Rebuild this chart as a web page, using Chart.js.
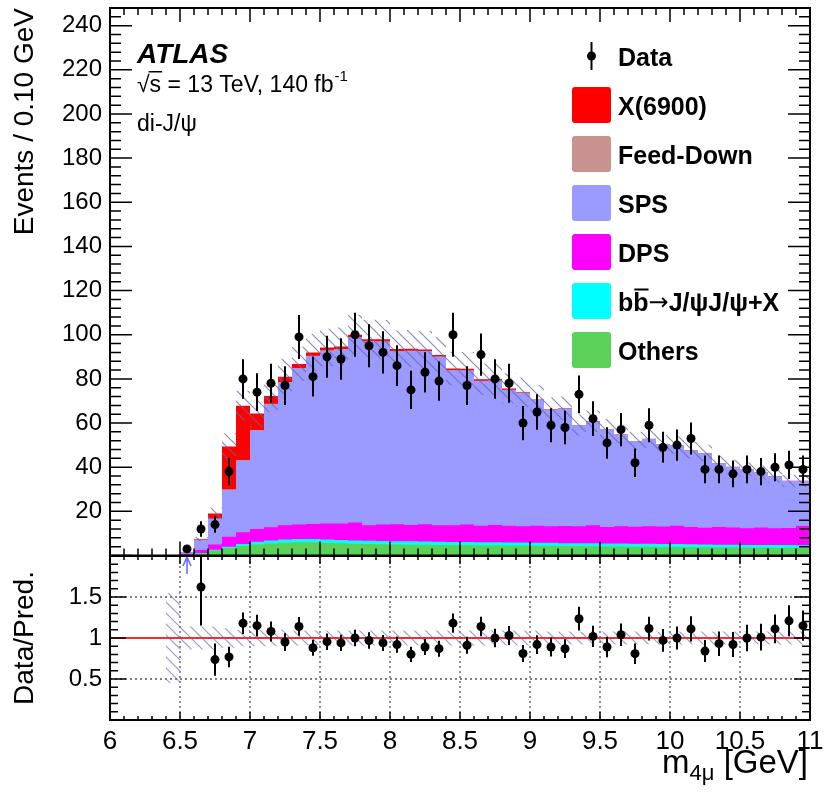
<!DOCTYPE html>
<html lang="en">
<head>
<meta charset="utf-8">
<title>di-J/psi m4mu</title>
<script src="https://cdn.jsdelivr.net/npm/chart.js@4.4.1/dist/chart.umd.min.js"></script>
<style>
  html, body { margin: 0; padding: 0; background: #fff; overflow: hidden; }
  #wrap { position: relative; width: 825px; height: 799px; }
  #mainCanvas { position: absolute; left: 0; top: 0; }
  #ratioCanvas { position: absolute; left: 0; top: 546px; }
</style>
</head>
<body>
<div id="wrap">
  <canvas id="mainCanvas" width="825" height="560"></canvas>
  <canvas id="ratioCanvas" width="825" height="253"></canvas>
</div>
<script>
// 0.1 GeV bins from 6.0 to 11.0 GeV (50 bins)
const binEdges = Array.from({ length: 51 }, (_, i) => (60 + i) / 10);
const binCenters = binEdges.slice(0, -1).map((e, i) => (e + binEdges[i + 1]) / 2);

// observed events per bin (empty bins below threshold are not drawn)
const dataCounts = [null, null, null, null, null,
  3, 12, 14, 38, 80,   74, 78, 77, 99, 81,   90, 89, 100, 95, 92,
  86, 75, 83, 79, 100, 77, 91, 80, 78, 60,   65, 59, 58, 73, 62,
  51, 57, 42, 59, 49,  50, 53, 39, 39, 37,   39, 38, 40, 41, 39];

// fitted components, stacked from the bottom
const othersBkg = [0, 0, 0, 0, 0,
  0.15, 1.0, 2.3, 3.4, 4.3,  5.0, 5.4, 5.8, 6.0, 6.0,  5.7, 5.5, 5.3, 5.2, 5.1,
  5.0, 4.9, 4.9, 4.8, 4.7,   4.7, 4.6, 4.6, 4.5, 4.5,  4.4, 4.4, 4.3, 4.3, 4.2,
  4.1, 4.1, 4.0, 4.0, 3.9,   3.9, 3.8, 3.8, 3.7, 3.7,  3.6, 3.6, 3.5, 3.5, 3.4];
const bbbarBkg = [0, 0, 0, 0, 0,
  0.05, 0.1, 0.3, 0.6, 0.9,  1.2, 1.4, 1.5, 1.5, 1.5,  1.5, 1.5, 1.5, 1.5, 1.5,
  1.5, 1.5, 1.4, 1.4, 1.4,   1.4, 1.4, 1.4, 1.4, 1.4,  1.4, 1.4, 1.3, 1.3, 1.3,
  1.3, 1.3, 1.3, 1.3, 1.3,   1.3, 1.3, 1.2, 1.2, 1.2,  1.2, 1.2, 1.2, 1.2, 1.2];
const dpsBkg = [0, 0, 0, 0, 0,
  0.5, 1.4, 2.4, 4.5, 5.3,   5.8, 6.0, 6.4, 6.5, 6.8,  7.3, 7.5, 8.2, 7.0, 7.4,
  7.6, 7.4, 7.8, 7.5, 7.6,   7.9, 7.5, 7.8, 7.6, 7.4,  7.7, 7.5, 7.8, 7.6, 8.2,
  7.5, 7.8, 7.7, 8.0, 7.9,   8.3, 7.8, 7.6, 8.0, 7.8,  7.5, 7.9, 7.6, 7.8, 8.8];
const spsBkg = [0, 0, 0, 0, 0,
  0.7, 4.4, 11.6, 21.2, 32.4,  44.6, 55.6, 64.6, 70.7, 76.0,  78.3, 78.8, 83.8, 83.3, 82.8,
  78.3, 78.9, 78.4, 76.3, 70.2, 69.8, 65.5, 65.4, 61.5, 60.3,  56.9, 52.7, 53.1, 45.8, 47.0,
  44.3, 41.5, 38.8, 39.5, 37.3, 36.4, 34.7, 33.7, 28.9, 27.4,  26.6, 24.8, 23.6, 21.3, 20.4];
const feedDown = [0, 0, 0, 0, 0,
  0, 0.1, 0.2, 0.3, 0.4,  0.3, 0.3, 0.3, 0.2, 0.2,  0.2, 0.2, 0.2, 0.2, 0.2,
  0.2, 0.1, 0.1, 0.1, 0.1,  0.1, 0.1, 0.1, 0.1, 0.1,  0.1, 0.1, 0.1, 0, 0,
  0, 0, 0, 0, 0,  0, 0, 0, 0, 0,  0, 0, 0, 0, 0];
const x6900 = [0, 0, 0, 0, 0,
  0.05, 0.4, 2.2, 19.4, 24.5,  7.4, 3.5, 2.4, 1.9, 1.5,  1.2, 1.2, 1.0, 0.8, 0.9,
  0.9, 0.9, 0.7, 0.7, 0.7,   0.7, 0.7, 0.7, 0.6, 0.3,  0.2, 0.2, 0.1, 0.1, 0.1,
  0.1, 0.1, 0.1, 0.1, 0.1,   0.1, 0.1, 0.1, 0.1, 0.1,  0.1, 0.1, 0.1, 0.1, 0.1];

// relative uncertainty of the total prediction
const predRelUnc = [null, null, null, null, 0.55,
  0.14, 0.14, 0.14, 0.12, 0.10,  0.10, 0.10, 0.10, 0.09, 0.09,  0.09, 0.09, 0.09, 0.09, 0.09,
  0.09, 0.09, 0.09, 0.09, 0.09,  0.09, 0.09, 0.09, 0.09, 0.09,  0.09, 0.08, 0.08, 0.08, 0.08,
  0.08, 0.08, 0.08, 0.08, 0.08,  0.08, 0.08, 0.08, 0.08, 0.08,  0.08, 0.08, 0.08, 0.08, 0.08];

// axis tick labels
const xTickValues = [6, 6.5, 7, 7.5, 8, 8.5, 9, 9.5, 10, 10.5, 11];
const mainYTicks = [20, 40, 60, 80, 100, 120, 140, 160, 180, 200, 220, 240];
const ratioYTicks = [0.5, 1, 1.5];

const FONT = "'Liberation Sans', Arial, Helvetica, sans-serif";
Chart.defaults.font.family = FONT;
Chart.defaults.color = '#000';

const stackOrder = [
  { label: 'Others', values: othersBkg, color: '#5ad25a' },
  { label: 'bb→J/ψJ/ψ+X', values: bbbarBkg, color: '#00ffff' },
  { label: 'DPS', values: dpsBkg, color: '#ff00ff' },
  { label: 'SPS', values: spsBkg, color: '#9a9aff' },
  { label: 'Feed-Down', values: feedDown, color: '#c8928f' },
  { label: 'X(6900)', values: x6900, color: '#ff0000' }
];

// running sums give the upper edge of each layer
let running = new Array(binCenters.length).fill(0);
const stackTops = stackOrder.map(layer => {
  running = running.map((v, i) => v + layer.values[i]);
  return running;
});
const totalPred = stackTops[stackTops.length - 1];

const dataErrors = dataCounts.map(n => (n === null ? null : Math.sqrt(n)));
const ratioVals = dataCounts.map((n, i) => (n === null ? null : n / totalPred[i]));
const ratioErrs = dataCounts.map((n, i) => (n === null ? null : Math.sqrt(n) / totalPred[i]));
const RATIO_MAX = 2;

// histogram outline: two points per bin so the line steps at the bin edges
function steps(values) {
  const pts = [];
  values.forEach((v, i) => {
    if (v === null) return;
    pts.push({ x: binEdges[i], y: v }, { x: binEdges[i + 1], y: v });
  });
  return pts;
}

function makeHatch(ctx, color) {
  const size = 11;
  const tile = document.createElement('canvas');
  tile.width = size;
  tile.height = size;
  const c = tile.getContext('2d');
  c.strokeStyle = color;
  c.lineWidth = 1.2;
  c.beginPath();
  c.moveTo(-1, -1); c.lineTo(size + 1, size + 1);
  c.moveTo(-1, size - 1); c.lineTo(1, size + 1);
  c.moveTo(size - 1, -1); c.lineTo(size + 1, 1);
  c.stroke();
  return ctx.createPattern(tile, 'repeat');
}

function fixWidth(w) {
  return scale => { scale.width = w; scale.paddingTop = 0; scale.paddingBottom = 0; };
}

function drawErrorBars(chart, values, errors) {
  const ctx = chart.ctx;
  const xs = chart.scales.x;
  const ys = chart.scales.y;
  const a = chart.chartArea;
  ctx.save();
  ctx.beginPath();
  ctx.rect(a.left, a.top, a.right - a.left, a.bottom - a.top);
  ctx.clip();
  ctx.strokeStyle = '#000';
  ctx.lineWidth = 2;
  ctx.beginPath();
  values.forEach((v, i) => {
    if (v === null || v > ys.max) return;
    const px = xs.getPixelForValue(binCenters[i]);
    ctx.moveTo(px, ys.getPixelForValue(v - errors[i]));
    ctx.lineTo(px, ys.getPixelForValue(v + errors[i]));
  });
  ctx.stroke();
  ctx.restore();
}

// inward ticks on all four sides plus the frame
function drawTicksAndFrame(chart, t) {
  const ctx = chart.ctx;
  const { left, right, top, bottom } = chart.chartArea;
  const xs = chart.scales.x;
  const ys = chart.scales.y;
  ctx.save();
  ctx.strokeStyle = '#000';
  ctx.lineWidth = 1.5;
  ctx.beginPath();
  binEdges.forEach((e, k) => {
    const px = xs.getPixelForValue(e);
    const len = k % 5 === 0 ? t.xMajorLen : t.xMinorLen;
    ctx.moveTo(px, bottom); ctx.lineTo(px, bottom - len);
    ctx.moveTo(px, top); ctx.lineTo(px, top + len);
  });
  const nY = Math.round((ys.max - ys.min) / t.yMinor);
  for (let k = 0; k <= nY; k++) {
    const py = ys.getPixelForValue(ys.min + k * t.yMinor);
    const len = k % t.yPerMajor === 0 ? t.yMajorLen : t.yMinorLen;
    ctx.moveTo(left, py); ctx.lineTo(left + len, py);
    ctx.moveTo(right, py); ctx.lineTo(right - len, py);
  }
  ctx.stroke();
  ctx.lineWidth = 2;
  ctx.strokeRect(left, top, right - left, bottom - top);
  ctx.restore();
}

function drawLegendLabel(ctx, label, x, y) {
  if (!label.startsWith('bb')) {
    ctx.fillText(label, x, y);
    return;
  }
  // b b-bar, then a thin arrow, then the decay products
  const boldFont = ctx.font;
  const wb = ctx.measureText('b').width;
  ctx.fillText('b', x, y);
  ctx.fillText('b', x + wb, y);
  ctx.fillRect(x + wb + 1, y - 22, wb - 1, 2);
  let cx = x + 2 * wb;
  ctx.font = `24px 'DejaVu Sans', sans-serif`;
  ctx.fillText('→', cx, y - 1);
  cx += ctx.measureText('→').width;
  ctx.font = boldFont;
  ctx.fillText(label.slice(3), cx, y);
}

const DATA_INDEX = 8;

const mainDecor = {
  id: 'mainDecor',
  beforeDatasetDraw(chart, args) {
    if (args.index === DATA_INDEX) drawErrorBars(chart, dataCounts, dataErrors);
  },
  afterDatasetsDraw(chart) {
    const ctx = chart.ctx;
    drawTicksAndFrame(chart, { yMinor: 4, yPerMajor: 5, yMajorLen: 22, yMinorLen: 11, xMajorLen: 14, xMinorLen: 7 });

    ctx.save();
    ctx.fillStyle = '#000';
    ctx.textAlign = 'left';
    ctx.textBaseline = 'alphabetic';

    ctx.font = `italic bold 28px ${FONT}`;
    ctx.fillText('ATLAS', 137, 63);

    // sqrt(s) line with the radical bar over the s
    ctx.font = `23px ${FONT}`;
    const base = 92;
    let x = 137;
    ctx.fillText('√', x, base);
    const wRoot = ctx.measureText('√').width;
    ctx.fillText('s', x + wRoot, base);
    const wS = ctx.measureText('s').width;
    ctx.fillRect(x + wRoot - 1, base - 21, wS + 2, 1.5);
    const rest = ' = 13 TeV, 140 fb';
    ctx.fillText(rest, x + wRoot + wS, base);
    const wRest = ctx.measureText(rest).width;
    ctx.font = `15px ${FONT}`;
    ctx.fillText('-1', x + wRoot + wS + wRest + 1, base - 11);

    ctx.font = `23px ${FONT}`;
    ctx.fillText('di-J/ψ', 137, 131);

    // legend
    ctx.strokeStyle = '#000';
    ctx.lineWidth = 2;
    ctx.beginPath();
    ctx.moveTo(591.5, 42); ctx.lineTo(591.5, 70);
    ctx.stroke();
    ctx.beginPath();
    ctx.arc(591.5, 56, 4.5, 0, Math.PI * 2);
    ctx.fill();
    ctx.font = `bold 25px ${FONT}`;
    ctx.fillText('Data', 618, 65.5);

    stackOrder.slice().reverse().forEach((layer, r) => {
      const top = 87 + 49 * r;
      ctx.fillStyle = layer.color;
      ctx.beginPath();
      ctx.roundRect(572, top, 39, 36, 3);
      ctx.fill();
      ctx.fillStyle = '#000';
      ctx.font = `bold 25px ${FONT}`;
      drawLegendLabel(ctx, layer.label, 618, top + 27.5);
    });
    ctx.restore();
  }
};

const mainCanvas = document.getElementById('mainCanvas');
const mainCtx = mainCanvas.getContext('2d');
const hatchMain = makeHatch(mainCtx, 'rgba(100, 100, 180, 0.75)');

const layerSets = stackOrder.map((layer, k) => ({
  label: layer.label,
  data: steps(stackTops[k]),
  fill: 'origin',
  backgroundColor: layer.color,
  borderColor: 'transparent',
  borderWidth: 0,
  pointRadius: 0,
  order: 20 + k
}));

new Chart(mainCanvas, {
  type: 'line',
  data: {
    datasets: [
      ...layerSets,
      {
        label: 'band-lo',
        data: steps(totalPred.map((t, i) => (predRelUnc[i] === null ? null : t * (1 - predRelUnc[i])))),
        fill: false, borderWidth: 0, borderColor: 'transparent', pointRadius: 0, order: 9
      },
      {
        label: 'band-hi',
        data: steps(totalPred.map((t, i) => (predRelUnc[i] === null ? null : t * (1 + predRelUnc[i])))),
        fill: 6, backgroundColor: hatchMain, borderWidth: 0, borderColor: 'transparent', pointRadius: 0, order: 8
      },
      {
        label: 'Data',
        data: dataCounts.map((n, i) => (n === null ? null : { x: binCenters[i], y: n })).filter(p => p),
        showLine: false,
        pointRadius: 4.5,
        pointBorderWidth: 0,
        pointBackgroundColor: '#000',
        order: 1
      }
    ]
  },
  options: {
    responsive: false,
    animation: false,
    devicePixelRatio: 1,
    events: [],
    layout: { padding: { left: 0, right: 15, top: 8, bottom: 4 } },
    plugins: { legend: { display: false }, tooltip: { enabled: false } },
    scales: {
      x: { type: 'linear', min: 6, max: 11, display: false },
      y: {
        type: 'linear', min: 0, max: 248,
        grid: { display: false, drawTicks: false },
        border: { display: false },
        afterBuildTicks: s => { s.ticks = mainYTicks.map(v => ({ value: v })); },
        ticks: { padding: 8, font: { size: 24 }, color: '#000', callback: v => String(v) },
        title: { display: true, text: 'Events / 0.10 GeV', align: 'end', font: { size: 28 }, color: '#000', padding: { top: 8, bottom: 0 } },
        afterFit: fixWidth(110)
      }
    }
  },
  plugins: [mainDecor]
});

// ---- ratio panel ----
const RATIO_INDEX = 3;

const ratioDecor = {
  id: 'ratioDecor',
  beforeDatasetsDraw(chart) {
    const ctx = chart.ctx;
    const { left, right, top, bottom } = chart.chartArea;
    const xs = chart.scales.x;
    const ys = chart.scales.y;
    ctx.save();
    ctx.strokeStyle = '#555';
    ctx.lineWidth = 1.3;
    ctx.setLineDash([2, 3]);
    ctx.beginPath();
    xTickValues.slice(1, -1).forEach(v => {
      const px = xs.getPixelForValue(v);
      ctx.moveTo(px, top); ctx.lineTo(px, bottom);
    });
    ratioYTicks.forEach(v => {
      const py = ys.getPixelForValue(v);
      ctx.moveTo(left, py); ctx.lineTo(right, py);
    });
    ctx.stroke();
    ctx.restore();
  },
  beforeDatasetDraw(chart, args) {
    if (args.index === RATIO_INDEX) drawErrorBars(chart, ratioVals, ratioErrs);
  },
  afterDatasetsDraw(chart) {
    const ctx = chart.ctx;
    const xs = chart.scales.x;
    const ys = chart.scales.y;

    // arrows for points above the ratio range
    ctx.save();
    ctx.strokeStyle = '#6f6fff';
    ctx.lineWidth = 1.6;
    ctx.beginPath();
    ratioVals.forEach((r, i) => {
      if (r === null || r <= RATIO_MAX) return;
      const px = xs.getPixelForValue(binCenters[i]);
      const py = ys.getPixelForValue(RATIO_MAX);
      ctx.moveTo(px, py + 18); ctx.lineTo(px, py + 1);
      ctx.moveTo(px - 4, py + 10); ctx.lineTo(px, py + 1); ctx.lineTo(px + 4, py + 10);
    });
    ctx.stroke();
    ctx.restore();

    drawTicksAndFrame(chart, { yMinor: 0.1, yPerMajor: 5, yMajorLen: 16, yMinorLen: 8, xMajorLen: 8, xMinorLen: 4 });

    // x-axis title with subscript, right aligned to the frame
    ctx.save();
    ctx.fillStyle = '#000';
    ctx.textAlign = 'left';
    ctx.textBaseline = 'alphabetic';
    const mainFont = `33px ${FONT}`;
    const subFont = `22px ${FONT}`;
    ctx.font = mainFont;
    const wM = ctx.measureText('m').width;
    const wTail = ctx.measureText(' [GeV]').width;
    ctx.font = subFont;
    const wSub = ctx.measureText('4μ').width;
    const base = 227;
    let x = chart.chartArea.right - 2 - (wM + wSub + wTail);
    ctx.font = mainFont;
    ctx.fillText('m', x, base);
    ctx.font = subFont;
    ctx.fillText('4μ', x + wM, base + 7);
    ctx.font = mainFont;
    ctx.fillText(' [GeV]', x + wM + wSub, base);
    ctx.restore();
  }
};

const ratioCanvas = document.getElementById('ratioCanvas');
const ratioCtx = ratioCanvas.getContext('2d');
const hatchRatio = makeHatch(ratioCtx, 'rgba(120, 120, 200, 0.75)');

new Chart(ratioCanvas, {
  type: 'line',
  data: {
    datasets: [
      {
        label: 'unc-lo',
        data: steps(predRelUnc.map(u => (u === null ? null : 1 - u))),
        fill: false, borderWidth: 0, borderColor: 'transparent', pointRadius: 0, order: 9
      },
      {
        label: 'unc-hi',
        data: steps(predRelUnc.map(u => (u === null ? null : 1 + u))),
        fill: 0, backgroundColor: hatchRatio, borderWidth: 0, borderColor: 'transparent', pointRadius: 0, order: 8
      },
      {
        label: 'unity',
        data: [{ x: 6, y: 1 }, { x: 11, y: 1 }],
        borderColor: '#f03030', borderWidth: 2, pointRadius: 0, fill: false, order: 5
      },
      {
        label: 'Data/Pred.',
        data: ratioVals.map((r, i) => (r === null || r > RATIO_MAX ? null : { x: binCenters[i], y: r })).filter(p => p),
        showLine: false,
        pointRadius: 4.5,
        pointBorderWidth: 0,
        pointBackgroundColor: '#000',
        order: 1
      }
    ]
  },
  options: {
    responsive: false,
    animation: false,
    devicePixelRatio: 1,
    events: [],
    layout: { padding: { left: 0, right: 15, top: 10, bottom: 0 } },
    plugins: { legend: { display: false }, tooltip: { enabled: false } },
    scales: {
      x: {
        type: 'linear', min: 6, max: 11,
        grid: { display: false, drawTicks: false },
        border: { display: false },
        afterBuildTicks: s => { s.ticks = xTickValues.map(v => ({ value: v })); },
        ticks: { padding: 6, font: { size: 26 }, color: '#000', maxRotation: 0, autoSkip: false, callback: v => String(v) },
        afterFit: scale => { scale.height = 79; scale.paddingLeft = 0; scale.paddingRight = 0; }
      },
      y: {
        type: 'linear', min: 0, max: RATIO_MAX,
        grid: { display: false, drawTicks: false },
        border: { display: false },
        afterBuildTicks: s => { s.ticks = ratioYTicks.map(v => ({ value: v })); },
        ticks: { padding: 8, font: { size: 24 }, color: '#000', callback: v => String(v) },
        title: { display: true, text: 'Data/Pred.', align: 'center', font: { size: 28 }, color: '#000', padding: { top: 8, bottom: 0 } },
        afterFit: fixWidth(110)
      }
    }
  },
  plugins: [ratioDecor]
});
</script>
</body>
</html>
